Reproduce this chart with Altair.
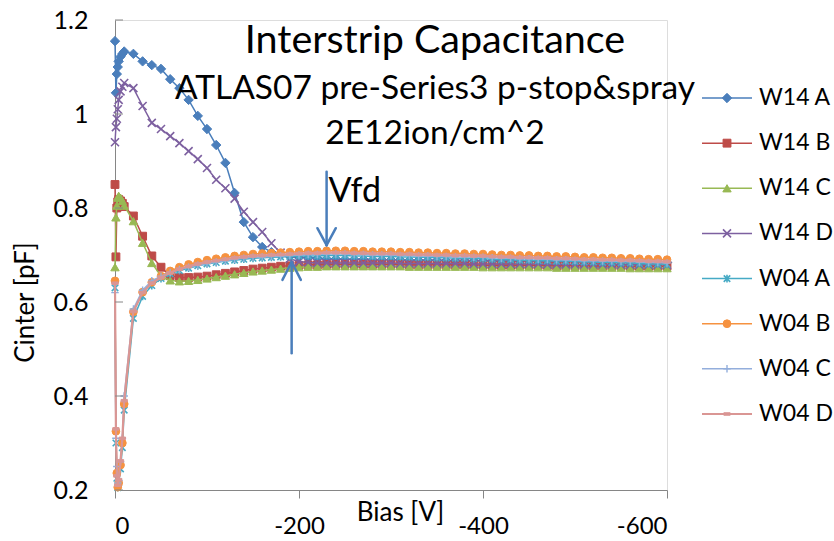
import altair as alt
import pandas as pd

# Bias steps [V]: fine steps near zero, then 10 V steps down to -600 V
bias = [0, -1, -2, -3, -4, -6, -8, -10,
        -20, -30, -40, -50, -60, -70, -80, -90, -100, -110, -120, -130, -140, -150,
        -160, -170, -180, -190, -200, -210, -220, -230, -240, -250,
        -260, -270, -280, -290, -300, -310, -320, -330, -340, -350,
        -360, -370, -380, -390, -400, -410, -420, -430, -440, -450,
        -460, -470, -480, -490, -500, -510, -520, -530, -540, -550,
        -560, -570, -580, -590, -600]

# Interstrip capacitance [pF] per strip pair
w14_a = [1.155, 1.045, 1.085, 1.100, 1.112, 1.122, 1.128, 1.133,
         1.128, 1.112, 1.104, 1.096, 1.074, 1.055, 1.030, 0.996, 0.968, 0.934, 0.896, 0.832,
         0.770, 0.738, 0.717, 0.706, 0.700, 0.697, 0.695, 0.694, 0.693, 0.692, 0.692, 0.691,
         0.691, 0.691, 0.690, 0.690, 0.690, 0.690, 0.689, 0.689, 0.689, 0.689,
         0.688, 0.688, 0.688, 0.688, 0.688, 0.687, 0.687, 0.687, 0.687, 0.687,
         0.686, 0.686, 0.686, 0.686, 0.686, 0.685, 0.685, 0.685, 0.685, 0.685,
         0.685, 0.684, 0.684, 0.684, 0.684]
w14_b = [0.850, 0.696, 0.800, 0.813, 0.818, 0.815, 0.810, 0.803,
         0.783, 0.740, 0.698, 0.674, 0.656, 0.652, 0.652, 0.653, 0.655, 0.658, 0.661, 0.664,
         0.667, 0.670, 0.672, 0.674, 0.676, 0.677, 0.678, 0.679, 0.679, 0.680, 0.680, 0.680,
         0.680, 0.680, 0.680, 0.680, 0.680, 0.680, 0.679, 0.679, 0.679, 0.679,
         0.679, 0.679, 0.679, 0.679, 0.678, 0.678, 0.678, 0.678, 0.678, 0.678,
         0.678, 0.678, 0.677, 0.677, 0.677, 0.677, 0.677, 0.677, 0.677, 0.677,
         0.676, 0.676, 0.676, 0.676, 0.676]
w14_c = [0.674, 0.780, 0.805, 0.822, 0.826, 0.822, 0.815, 0.805,
         0.772, 0.726, 0.683, 0.655, 0.646, 0.644, 0.645, 0.647, 0.650, 0.653, 0.656, 0.659,
         0.662, 0.665, 0.667, 0.669, 0.671, 0.673, 0.674, 0.675, 0.675, 0.676, 0.676, 0.676,
         0.676, 0.676, 0.676, 0.676, 0.676, 0.676, 0.675, 0.675, 0.675, 0.675,
         0.675, 0.675, 0.675, 0.675, 0.674, 0.674, 0.674, 0.674, 0.674, 0.674,
         0.674, 0.674, 0.673, 0.673, 0.673, 0.673, 0.673, 0.673, 0.673, 0.673,
         0.672, 0.672, 0.672, 0.672, 0.672]
w14_d = [0.940, 0.972, 0.990, 1.010, 1.030, 1.048, 1.058, 1.066,
         1.055, 1.017, 0.981, 0.968, 0.953, 0.938, 0.921, 0.904, 0.885, 0.860, 0.842, 0.820,
         0.792, 0.770, 0.749, 0.725, 0.705, 0.692, 0.686, 0.684, 0.683, 0.683, 0.683, 0.683,
         0.683, 0.683, 0.683, 0.683, 0.683, 0.682, 0.682, 0.682, 0.682, 0.682,
         0.682, 0.682, 0.682, 0.681, 0.681, 0.681, 0.681, 0.681, 0.681, 0.681,
         0.681, 0.680, 0.680, 0.680, 0.680, 0.680, 0.680, 0.680, 0.680, 0.679,
         0.679, 0.679, 0.679, 0.679, 0.679]
w04_a = [0.630, 0.300, 0.225, 0.205, 0.215, 0.245, 0.290, 0.370,
         0.565, 0.612, 0.635, 0.650, 0.660, 0.667, 0.672, 0.677, 0.681, 0.684, 0.687, 0.689,
         0.691, 0.693, 0.694, 0.695, 0.696, 0.697, 0.698, 0.698, 0.698, 0.699, 0.699, 0.699,
         0.698, 0.698, 0.697, 0.697, 0.697, 0.696, 0.696, 0.695, 0.695, 0.694,
         0.694, 0.693, 0.693, 0.692, 0.692, 0.691, 0.690, 0.690, 0.689, 0.689,
         0.688, 0.688, 0.687, 0.687, 0.686, 0.685, 0.685, 0.684, 0.684, 0.683,
         0.683, 0.682, 0.681, 0.681, 0.680]
w04_b = [0.645, 0.325, 0.236, 0.206, 0.215, 0.253, 0.300, 0.383,
         0.579, 0.621, 0.642, 0.655, 0.666, 0.674, 0.680, 0.685, 0.689, 0.692, 0.695, 0.698,
         0.700, 0.702, 0.703, 0.704, 0.705, 0.706, 0.707, 0.708, 0.708, 0.709, 0.709, 0.709,
         0.708, 0.708, 0.707, 0.707, 0.707, 0.706, 0.706, 0.705, 0.705, 0.704,
         0.704, 0.703, 0.703, 0.702, 0.702, 0.701, 0.700, 0.700, 0.699, 0.699,
         0.698, 0.698, 0.697, 0.697, 0.696, 0.695, 0.695, 0.694, 0.694, 0.693,
         0.693, 0.692, 0.691, 0.691, 0.690]
w04_c = [0.620, 0.310, 0.250, 0.215, 0.220, 0.260, 0.310, 0.400,
         0.585, 0.625, 0.645, 0.655, 0.663, 0.669, 0.674, 0.678, 0.682, 0.685, 0.688, 0.691,
         0.693, 0.695, 0.696, 0.697, 0.698, 0.699, 0.700, 0.701, 0.701, 0.702, 0.702, 0.702,
         0.701, 0.701, 0.700, 0.700, 0.700, 0.699, 0.699, 0.698, 0.698, 0.697,
         0.697, 0.696, 0.696, 0.695, 0.695, 0.694, 0.693, 0.693, 0.692, 0.692,
         0.691, 0.691, 0.690, 0.690, 0.689, 0.688, 0.688, 0.687, 0.687, 0.686,
         0.686, 0.685, 0.684, 0.684, 0.683]
w04_d = [0.640, 0.330, 0.230, 0.210, 0.222, 0.262, 0.310, 0.390,
         0.580, 0.620, 0.640, 0.652, 0.662, 0.670, 0.676, 0.681, 0.685, 0.688, 0.691, 0.694,
         0.696, 0.698, 0.699, 0.700, 0.701, 0.702, 0.703, 0.704, 0.704, 0.705, 0.705, 0.705,
         0.704, 0.704, 0.703, 0.703, 0.703, 0.702, 0.702, 0.701, 0.701, 0.700,
         0.700, 0.699, 0.699, 0.698, 0.698, 0.697, 0.696, 0.696, 0.695, 0.695,
         0.694, 0.694, 0.693, 0.693, 0.692, 0.691, 0.691, 0.690, 0.690, 0.689,
         0.689, 0.688, 0.687, 0.687, 0.686]

series_names = ["W14 A", "W14 B", "W14 C", "W14 D", "W04 A", "W04 B", "W04 C", "W04 D"]
series_values = [w14_a, w14_b, w14_c, w14_d, w04_a, w04_b, w04_c, w04_d]
series_colors = ["#4A7EBB", "#BE4B48", "#98B954", "#7D60A0",
                 "#46AAC5", "#F69240", "#93AEDC", "#DA9694"]

X_PATH = "M-1,-1L1,1M-1,1L1,-1"
STAR_PATH = "M-1,-1L1,1M-1,1L1,-1M0,-1.2L0,1.2"
PLUS_PATH = "M-1,0L1,0M0,-1L0,1"
DASH_PATH = "M-1,-0.4L1,-0.4L1,0.4L-1,0.4Z"
# (shape, size, filled, stroke width)
marker_styles = [
    ("diamond", 88, True, 1),
    ("square", 62, True, 1),
    ("triangle-up", 70, True, 1),
    (X_PATH, 64, False, 1.6),
    (STAR_PATH, 42, False, 1.6),
    ("circle", 60, True, 1),
    (PLUS_PATH, 56, False, 1.4),
    (DASH_PATH, 40, True, 1),
]
line_widths = [1.5, 1.5, 1.5, 1.5, 1.5, 1.5, 1.5, 2.2]

y_ticks = [0.2, 0.4, 0.6, 0.8, 1.0, 1.2]
x_ticks = [0, -200, -400, -600]

# Vfd markers: arrow shafts and heads in data coordinates
arrow_x = [-230, -220, -240, -192, -182, -202]
arrow_y = [0.877, 0.757, 0.757, 0.491, 0.647, 0.647]
arrow_x2 = [-230, -230, -230, -192, -192, -192]
arrow_y2 = [0.721, 0.721, 0.721, 0.685, 0.685, 0.685]

title_lines = ["Interstrip Capacitance", "ATLAS07 pre-Series3 p-stop&spray", "2E12ion/cm^2"]

FONT = "Lato"
AXIS_GREY = "#868686"
W, H = 552, 470

rows = []
for name, vals in zip(series_names, series_values):
    for b, c in zip(bias, vals):
        rows.append({"series": name, "bias": b, "cinter": c})
df = pd.DataFrame(rows)

x_scale = alt.Scale(domain=[0, -600], nice=False, zero=False)
y_scale = alt.Scale(domain=[0.2, 1.2], nice=False, zero=False)

x_axis = alt.Axis(values=x_ticks, labelExpr="toString(datum.value)", grid=False,
                  domainColor=AXIS_GREY, tickColor=AXIS_GREY, tickSize=8,
                  labelFontSize=24, labelColor="black", labelPadding=16, labelFont=FONT,
                  title="Bias [V]", titleFontSize=26, titleFontWeight="normal", titleFont=FONT,
                  titleColor="black", titleX=285, titleY=30, titleAlign="center",
                  titleBaseline="alphabetic")
y_axis = alt.Axis(values=y_ticks, format="~g", grid=False, ticks=False,
                  domainColor=AXIS_GREY, labelFontSize=25, labelColor="black",
                  labelPadding=27, labelFont=FONT,
                  title="Cinter [pF]", titleFontSize=26, titleFontWeight="normal", titleFont=FONT,
                  titleColor="black", titleX=-82, titleY=282, titleAngle=270,
                  titleAlign="center", titleBaseline="alphabetic")

X = alt.X("bias:Q", scale=x_scale, axis=x_axis)
Y = alt.Y("cinter:Q", scale=y_scale, axis=y_axis)

base = alt.Chart(df)
layers = []
for name, color, (shape, size, filled, sw), lw in zip(series_names, series_colors,
                                                      marker_styles, line_widths):
    sub = base.transform_filter(alt.datum.series == name)
    layers.append(sub.mark_line(color=color, strokeWidth=lw).encode(x=X, y=Y))
    layers.append(sub.mark_point(shape=shape, size=size, opacity=1,
                                 fill=color if filled else "transparent",
                                 stroke=color, strokeWidth=sw).encode(x=X, y=Y))

# inward-pointing ticks on the value axis
tick_df = pd.DataFrame({"cinter": y_ticks})
layers.append(alt.Chart(tick_df).mark_rule(color=AXIS_GREY, strokeWidth=1).encode(
    y=Y, x=alt.value(0), x2=alt.value(8)))

arrow_df = pd.DataFrame({"bias": arrow_x, "cinter": arrow_y, "bias2": arrow_x2, "cinter2": arrow_y2})
layers.append(alt.Chart(arrow_df).mark_rule(color="#4A7EBB", strokeWidth=2.5, strokeCap="round").encode(
    x=X, y=Y, x2="bias2:Q", y2="cinter2:Q"))

vfd_df = pd.DataFrame({"bias": [-232], "cinter": [0.813], "label": ["Vfd"]})
layers.append(alt.Chart(vfd_df).mark_text(font=FONT, fontSize=34, align="left",
                                          baseline="alphabetic", color="black").encode(
    x=X, y=Y, text="label:N"))

for line, fs, ty in zip(title_lines, [39.5, 33.5, 33.5], [33, 79, 124]):
    layers.append(alt.Chart(pd.DataFrame({"t": [line]})).mark_text(
        font=FONT, fontSize=fs, align="center", baseline="alphabetic", color="black").encode(
        x=alt.value(320), y=alt.value(ty), text="t:N"))

main = alt.layer(*layers)

# legend: line segment with marker, then label, one row per series
leg_df = pd.DataFrame({"series": series_names, "row": list(range(len(series_names)))})
LEG_Y = alt.Y("row:Q", scale=alt.Scale(domain=[0, len(series_names) - 1], range=[78, 394],
                                        nice=False, zero=False), axis=None)
leg_layers = []
for name, color, (shape, size, filled, sw), lw in zip(series_names, series_colors,
                                                      marker_styles, line_widths):
    sub = alt.Chart(leg_df).transform_filter(alt.datum.series == name)
    leg_layers.append(sub.mark_rule(color=color, strokeWidth=lw).encode(
        y=LEG_Y, x=alt.value(587), x2=alt.value(637)))
    leg_layers.append(sub.mark_point(shape=shape, size=size, opacity=1,
                                     fill=color if filled else "transparent",
                                     stroke=color, strokeWidth=sw).encode(
        y=LEG_Y, x=alt.value(612)))
    leg_layers.append(sub.mark_text(font=FONT, fontSize=23, align="left", baseline="middle",
                                    color="black").encode(
        y=LEG_Y, x=alt.value(644), text="series:N"))
legend = alt.layer(*leg_layers)

chart = alt.layer(main, legend).resolve_scale(y="independent").properties(
    width=W, height=H,
    autosize=alt.AutoSizeParams(type="none"),
    padding={"left": 115, "top": 20, "right": 834 - 115 - W, "bottom": 541 - 20 - H},
    background="white",
).configure_view(stroke=None).configure(font=FONT)

chart.save("out.html", embed_options={"renderer": "svg", "actions": False})
